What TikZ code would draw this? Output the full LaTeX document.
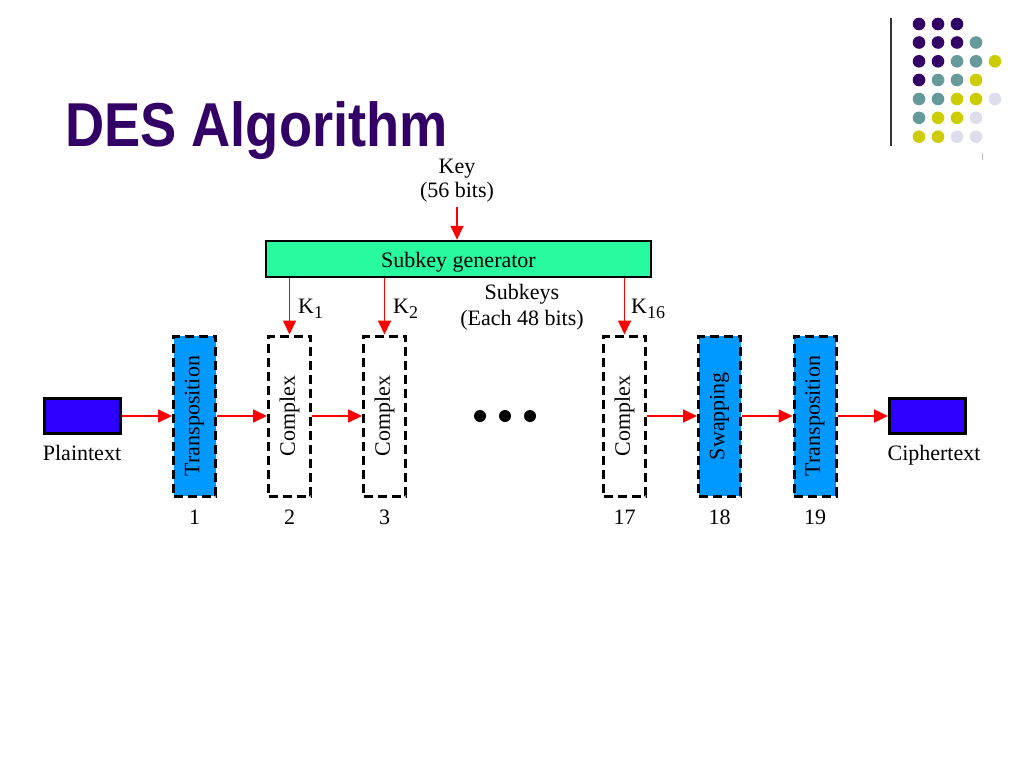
\documentclass[tikz,border=0pt]{standalone}
\usepackage{fontspec}
\usepackage{graphicx}
\setmainfont{Liberation Serif}
\newfontfamily\titlefont{Liberation Sans}
\usetikzlibrary{arrows.meta}
\definecolor{titlepurple}{RGB}{51,0,102}
\definecolor{dotpurple}{RGB}{51,0,102}
\definecolor{dotteal}{RGB}{102,153,153}
\definecolor{dotyellow}{RGB}{204,204,0}
\definecolor{dotlav}{RGB}{221,221,238}
\definecolor{mint}{RGB}{40,250,160}
\definecolor{stepblue}{RGB}{0,153,255}
\definecolor{textblue}{RGB}{45,0,255}
\newcommand{\subidx}[1]{\raisebox{-5pt}{\fontsize{18}{18}\selectfont #1}}
\tikzset{
  txt/.style={font=\fontsize{22}{23}\selectfont, inner sep=0pt},
  stagebox/.style={draw=black, line width=3pt, dash pattern=on 9pt off 5pt,
    minimum width=42pt, minimum height=160pt, inner sep=0pt,
    font=\fontsize{22}{23}\selectfont},
  filledstage/.style={stagebox, fill=stepblue},
  databox/.style={draw=black, line width=3pt, fill=textblue,
    minimum width=76pt, minimum height=35pt, inner sep=0pt},
  flow/.style={red, line width=1.7pt, -{Triangle[length=14pt,width=13pt]}},
  dot/.style={circle, inner sep=0pt, minimum size=12.6pt},
}
\begin{document}
\begin{tikzpicture}[x=1pt,y=-1pt]
\useasboundingbox (0,0) rectangle (1024,768);
% title
\node[anchor=base west, inner sep=0pt, text=titlepurple, xscale=0.875,
  font=\titlefont\bfseries\fontsize{62}{64}\selectfont] (title) at (65,146.5) {DES Algorithm};
% decoration
\draw[line width=1.2pt, black!80] (891,18) -- (891,146);
\draw[line width=0.6pt, black!25] (982,153) -- (982,160);
\foreach \col [count=\c from 0] in {dotpurple,dotpurple,dotpurple}{
  \node[dot, fill=\col] (d1\c) at (919+19*\c,24) {};}
\foreach \col [count=\c from 0] in {dotpurple,dotpurple,dotpurple,dotteal}{
  \node[dot, fill=\col] (d2\c) at (919+19*\c,42.5) {};}
\foreach \col [count=\c from 0] in {dotpurple,dotpurple,dotteal,dotteal,dotyellow}{
  \node[dot, fill=\col] (d3\c) at (919+19*\c,61.3) {};}
\foreach \col [count=\c from 0] in {dotpurple,dotteal,dotteal,dotyellow}{
  \node[dot, fill=\col] (d4\c) at (919+19*\c,80) {};}
\foreach \col [count=\c from 0] in {dotteal,dotteal,dotyellow,dotyellow,dotlav}{
  \node[dot, fill=\col] (d5\c) at (919+19*\c,99) {};}
\foreach \col [count=\c from 0] in {dotteal,dotyellow,dotyellow,dotlav}{
  \node[dot, fill=\col] (d6\c) at (919+19*\c,117.8) {};}
\foreach \col [count=\c from 0] in {dotyellow,dotyellow,dotlav,dotlav}{
  \node[dot, fill=\col] (d7\c) at (919+19*\c,136.7) {};}
% key
\node[txt, anchor=base] (key) at (457,173) {Key};
\node[txt, anchor=base] (keybits) at (457,197.5) {(56 bits)};
\coordinate (keystart) at (457,207);
% subkey generator
\node[draw=black, line width=2.5pt, fill=mint, minimum width=385pt, minimum height=36pt,
  inner sep=0pt] (sg) at (458.5,259) {};
\node[txt, anchor=base] (sgtext) at (458.5,267) {Subkey generator};
\node[txt, anchor=base] (subkeys) at (522,299) {Subkeys};
\node[txt, anchor=base] (each) at (522,325) {(Each 48 bits)};
% stages
\node[filledstage] (t1) at (194.5,416) {\rotatebox{90}{Transposition}};
\node[stagebox] (c2) at (289.5,416) {\rotatebox{90}{Complex}};
\node[stagebox] (c3) at (384.5,416) {\rotatebox{90}{Complex}};
\node[stagebox] (c17) at (624.5,416) {\rotatebox{90}{Complex}};
\node[filledstage] (s18) at (719.5,416) {\rotatebox{90}{Swapping}};
\node[filledstage] (t19) at (815,416) {\rotatebox{90}{Transposition}};
% data
\node[databox] (plain) at (82,416) {};
\node[databox] (cipher) at (927.5,416) {};
\node[txt, anchor=base] (plainlbl) at (82,460) {Plaintext};
\node[txt, anchor=base] (cipherlbl) at (934,460) {Ciphertext};
% ellipsis dots
\node[dot, fill=black, minimum size=12pt] (e1) at (480,416) {};
\node[dot, fill=black, minimum size=12pt] (e2) at (505,416) {};
\node[dot, fill=black, minimum size=12pt] (e3) at (530,416) {};
% numbers
\node[txt, anchor=base] (n1) at (194.5,524) {1};
\node[txt, anchor=base] (n2) at (289.5,524) {2};
\node[txt, anchor=base] (n3) at (384.5,524) {3};
\node[txt, anchor=base] (n17) at (624.5,524) {17};
\node[txt, anchor=base] (n18) at (719.5,524) {18};
\node[txt, anchor=base] (n19) at (815,524) {19};
% arrows
\draw[flow] (keystart) -- (keystart |- sg.north);
\draw[flow] (sg.south -| c2.north) -- (c2.north);
\draw[flow] (sg.south -| c3.north) -- (c3.north);
\draw[flow] (sg.south -| c17.north) -- (c17.north);
\node[txt, anchor=base west] (k1) at (298,313) {K\subidx{1}};
\node[txt, anchor=base west] (k2) at (393,313) {K\subidx{2}};
\node[txt, anchor=base west] (k16) at (631,313) {K\subidx{16}};
\draw[flow] (plain.east) -- (t1.west);
\draw[flow] (t1.east) -- (c2.west);
\draw[flow] (c2.east) -- (c3.west);
\draw[flow] (c17.east) -- (s18.west);
\draw[flow] (s18.east) -- (t19.west);
\draw[flow] (t19.east) -- (cipher.west);
\end{tikzpicture}
\end{document}
